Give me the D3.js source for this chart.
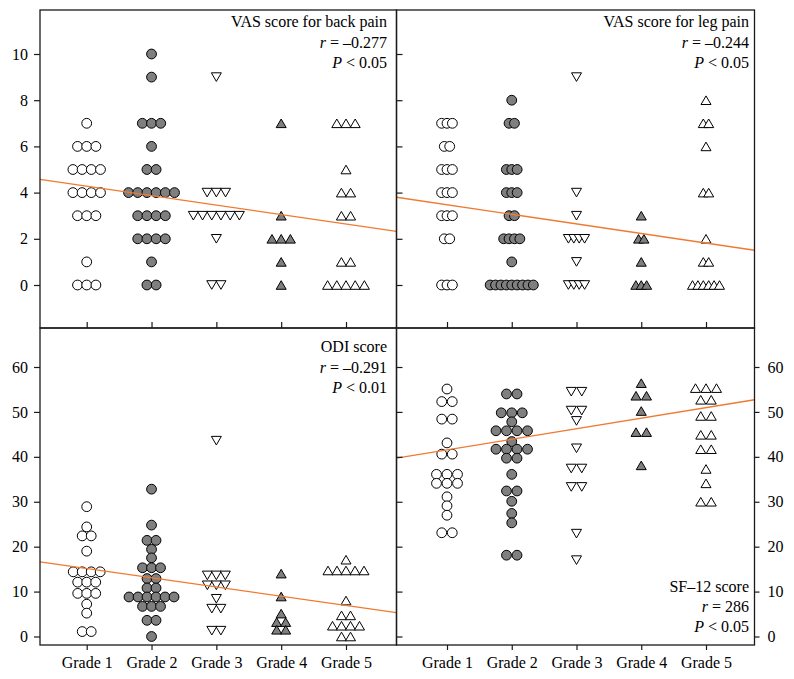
<!DOCTYPE html>
<html><head><meta charset="utf-8">
<script src="https://cdn.jsdelivr.net/npm/d3@7"></script>
<style>
body{margin:0;background:#fff}
svg{display:block}
text{font-family:"Liberation Serif","Times New Roman",serif;fill:#000}
</style>
</head><body>
<svg id="c" width="794" height="679" font-family="Liberation Serif, Times New Roman, serif"></svg>
<script>
// ---------- data ----------
const grades = ["Grade 1","Grade 2","Grade 3","Grade 4","Grade 5"];
const vasTicks = [0,2,4,6,8,10];
const scoreTicks = [0,10,20,30,40,50,60];

const vasBack = [
  [7,6,6,6,5,5,5,5,4,4,4,4,3,3,3,1,0,0,0],
  [10,9,7,7,7,6,5,5,4,4,4,4,4,4,3,3,3,3,2,2,2,2,1,0,0],
  [9,4,4,4,3,3,3,3,3,3,2,0,0],
  [7,3,2,2,2,1,0],
  [7,7,7,5,4,4,3,3,1,1,0,0,0,0,0]
];
const vasLeg = [
  [7,7,7,6,6,5,5,5,4,4,4,3,3,3,2,2,0,0,0],
  [8,7,7,5,5,5,4,4,4,3,3,2,2,2,2,1,0,0,0,0,0,0,0,0,0],
  [9,4,3,2,2,2,2,1,0,0,0,0],
  [3,2,2,1,0,0,0],
  [8,7,7,6,4,4,2,1,1,0,0,0,0,0,0]
];
const odi = [
  [28.9,24.4,22.4,22.4,19.0,14.4,14.4,14.4,14.4,12.1,12.1,12.1,9.6,9.6,9.6,7.2,5.2,1.1,1.1],
  [32.8,24.8,21.4,21.4,19.4,17.5,15.3,15.3,15.3,12.9,12.9,10.8,10.8,8.8,8.8,8.8,8.8,8.8,8.8,6.7,6.7,6.7,3.6,3.6,0],
  [43.6,13.6,13.6,13.6,11.4,11.4,11.4,8.4,6.2,6.2,1.3,1.3],
  [14.0,8.9,5.1,3.2,3.2,1.5,1.5],
  [17.1,14.7,14.7,14.7,14.7,14.7,8.0,4.7,4.7,2.4,2.4,2.4,2.4,0,0]
];
const sf12 = [
  [55.1,52.3,52.3,48.4,48.4,43.1,40.6,40.6,36.1,36.1,36.1,34.1,34.1,34.1,31.1,29.1,27.0,23.1,23.1],
  [54.0,54.0,49.8,49.8,49.8,47.8,45.8,45.8,45.8,45.8,43.4,41.7,41.7,41.7,41.7,39.7,39.7,36.1,32.4,32.4,30.1,27.4,25.3,18.1,18.1],
  [54.5,54.5,50.3,50.3,48.0,41.9,37.4,37.4,33.3,33.3,22.9,17.0],
  [56.4,53.6,53.6,50.2,45.5,45.5,38.1],
  [55.3,55.3,55.3,52.7,52.7,49.1,49.1,44.9,44.9,41.7,41.7,37.3,34.1,30.0,30.0]
];
// regression lines: [intercept, slope] in grade units
const backFit = [4.69,-0.41];
const legFit = [3.89,-0.415];
const odiFit = [17.2,-2.06];
const sfFit = [39.2,2.35];

const backText = ["VAS score for back pain","–0.277","0.05"];
const legText = ["VAS score for leg pain","–0.244","0.05"];
const odiText = ["ODI score","–0.291","0.01"];
const sfText = ["SF–12 score","286","0.05"];

// ---------- styles ----------
const markerKinds = ["circle","circle","down","up","up"];
const markerFills = ["#ffffff","#7f7f7f","#ffffff","#7f7f7f","#ffffff"];
const lineColor = "#f07a32";
const FONT = '"Liberation Serif","Times New Roman",serif';

// ---------- layout ----------
const X0 = 40, XM = 396.5, X1 = 754.5, Y0 = 10, YM = 328, Y1 = 645;
const xLeft = d3.scaleLinear().domain([1,5]).range([86.7,346]);
const xRight = d3.scaleLinear().domain([1,5]).range([447,706]);
const yTop = d3.scaleLinear().domain([0,10]).range([285,54]);
const yBot = d3.scaleLinear().domain([0,60]).range([636.5,367]);

const svg = d3.select("#c");

const panels = [
  {data:vasBack, fit:backFit, txt:backText, x:xLeft, y:yTop, l:X0, r:XM, t:Y0, b:YM, sp:9.2, tx:387, ty:[27,47.5,68]},
  {data:vasLeg, fit:legFit, txt:legText, x:xRight, y:yTop, l:XM, r:X1, t:Y0, b:YM, sp:5.4, tx:749, ty:[27,47.5,68]},
  {data:odi, fit:odiFit, txt:odiText, x:xLeft, y:yBot, l:X0, r:XM, t:YM, b:Y1, sp:9.0, tx:387, ty:[352,372.5,393]},
  {data:sf12, fit:sfFit, txt:sfText, x:xRight, y:yBot, l:XM, r:X1, t:YM, b:Y1, sp:10.5, tx:749, ty:[592,612,632]}
];

function markerPath(kind){
  const w = 10, h = 8.6;
  if(kind==="up") return `M0,${-h/2}L${w/2},${h/2}L${-w/2},${h/2}Z`;
  return `M0,${h/2}L${w/2},${-h/2}L${-w/2},${-h/2}Z`;
}

panels.forEach(p=>{
  const g = svg.append("g");
  p.data.forEach((vals,gi)=>{
    const groups = d3.group(vals, v=>v);
    groups.forEach((arr,v)=>{
      const n = arr.length;
      arr.forEach((_,i)=>{
        const cx = p.x(gi+1) + (i-(n-1)/2)*p.sp;
        const cy = p.y(v);
        const kind = markerKinds[gi];
        if(kind==="circle"){
          g.append("circle").attr("cx",cx).attr("cy",cy).attr("r",4.9)
            .attr("fill",markerFills[gi]).attr("stroke","#000").attr("stroke-width",1);
        } else {
          g.append("path").attr("d",markerPath(kind)).attr("transform",`translate(${cx},${cy})`)
            .attr("fill",markerFills[gi]).attr("stroke","#000").attr("stroke-width",1);
        }
      });
    });
  });
  const ga = p.x.invert(p.l), gb = p.x.invert(p.r);
  g.append("line")
    .attr("x1",p.l).attr("y1",p.y(p.fit[0]+p.fit[1]*ga))
    .attr("x2",p.r).attr("y2",p.y(p.fit[0]+p.fit[1]*gb))
    .attr("stroke",lineColor).attr("stroke-width",1.3);
  const t = g.append("g").attr("text-anchor","end").attr("font-family",FONT).style("font-size","16px");
  t.append("text").attr("x",p.tx).attr("y",p.ty[0]).text(p.txt[0]);
  const t2 = t.append("text").attr("x",p.tx).attr("y",p.ty[1]);
  t2.append("tspan").attr("font-style","italic").text("r");
  t2.append("tspan").text(" = "+p.txt[1]);
  const t3 = t.append("text").attr("x",p.tx).attr("y",p.ty[2]);
  t3.append("tspan").attr("font-style","italic").text("P");
  t3.append("tspan").text(" < "+p.txt[2]);
});

panels.forEach(p=>{
  svg.append("rect").attr("x",p.l).attr("y",p.t).attr("width",p.r-p.l).attr("height",p.b-p.t)
    .attr("fill","none").attr("stroke","#1a1a1a").attr("stroke-width",1.3);
});

function styleAxis(sel, showLabels){
  sel.attr("font-family",FONT);
  sel.select(".domain").remove();
  sel.selectAll(".tick line").attr("stroke","#1a1a1a").attr("stroke-width",1.2);
  sel.selectAll(".tick text").style("font-size","16px").style("font-family",FONT).attr("fill","#000");
  if(!showLabels) sel.selectAll(".tick text").remove();
}

styleAxis(svg.append("g").attr("transform",`translate(${X0},0)`)
  .call(d3.axisLeft(yTop).tickValues(vasTicks).tickSize(6).tickPadding(6)), true);
styleAxis(svg.append("g").attr("transform",`translate(${XM},0)`)
  .call(d3.axisRight(yTop).tickValues(vasTicks).tickSize(6)), false);
styleAxis(svg.append("g").attr("transform",`translate(${X0},0)`)
  .call(d3.axisLeft(yBot).tickValues(scoreTicks).tickSize(6).tickPadding(6)), true);
styleAxis(svg.append("g").attr("transform",`translate(${XM},0)`)
  .call(d3.axisRight(yBot).tickValues(scoreTicks).tickSize(6)), false);
styleAxis(svg.append("g").attr("transform",`translate(${X1},0)`)
  .call(d3.axisRight(yBot).tickValues(scoreTicks).tickSize(5).tickPadding(8)), true);

const gradeNums = [1,2,3,4,5];
[xLeft,xRight].forEach(xs=>{
  styleAxis(svg.append("g").attr("transform",`translate(0,${YM})`)
    .call(d3.axisTop(xs).tickValues(gradeNums).tickSize(6)), false);
  styleAxis(svg.append("g").attr("transform",`translate(0,${Y1})`)
    .call(d3.axisBottom(xs).tickValues(gradeNums).tickSize(5).tickPadding(7).tickFormat(d=>grades[d-1])), true);
});
</script>
</body></html>
